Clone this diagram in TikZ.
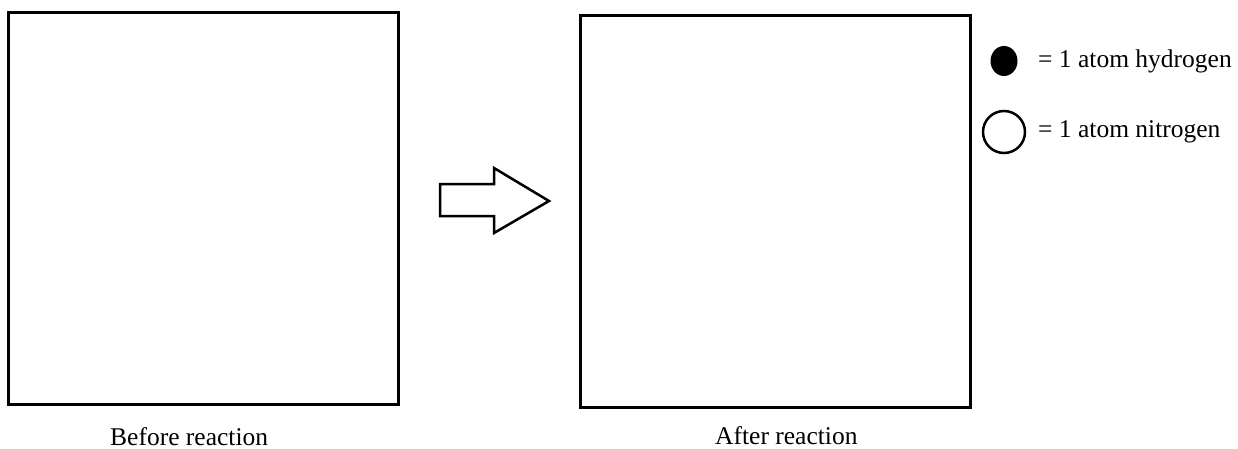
\documentclass[tikz,border=0pt]{standalone}
\usepackage{fontspec}
\setmainfont{Liberation Serif}
\begin{document}
\begin{tikzpicture}[x=1pt,y=-1pt,
  box/.style={draw=black,line width=3pt},
  lbl/.style={inner sep=0pt,anchor=base west,font=\fontsize{25.5}{30}\selectfont},
  atom/.style={line width=2.5pt}]
\useasboundingbox (0,0) rectangle (1238,449);
% boxes
\draw[box] (8,13) rectangle (398,404);
\draw[box] (580,16) rectangle (970,407);
% arrow
\draw[line width=2.5pt,line join=miter] (440,184) -- (494,184) -- (494,168) -- (549,201) -- (494,233) -- (494,216) -- (440,216) -- cycle;
% legend
\fill[black] (1004,61) ellipse [x radius=13.5, y radius=15];
\draw[atom] (1004,132) circle [radius=21];
\node[lbl] (h) at (1038,68) {= 1 atom hydrogen};
\node[lbl] (n) at (1038,138) {= 1 atom nitrogen};
% captions
\node[lbl] (before) at (110,445) {Before reaction};
\node[lbl] (after) at (715,444) {After reaction};
\end{tikzpicture}
\end{document}
